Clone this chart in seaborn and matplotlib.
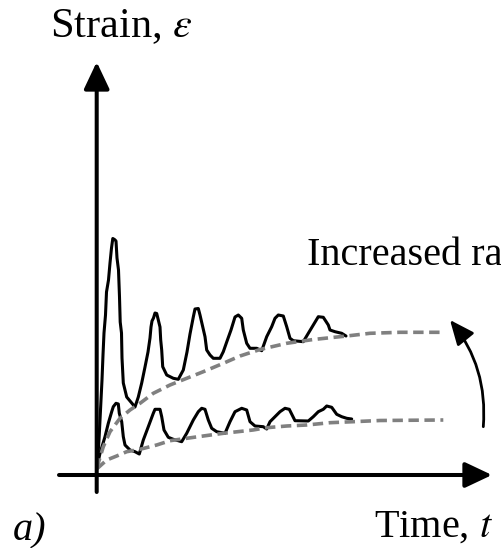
import matplotlib
matplotlib.use("Agg")
import matplotlib.pyplot as plt
from matplotlib.patches import FancyArrowPatch
import seaborn as sns
import pandas as pd

# --- strain response under cyclic loading (time t, strain eps) ---
upper_t = [0.05, 0.25, 0.40, 0.55, 0.65, 0.75, 0.90, 1.00, 1.20, 1.35, 1.50, 1.63,
           1.80, 1.95, 2.05, 2.20, 2.30, 2.37, 2.50, 2.55, 2.68, 3.02, 3.52, 3.85,
           4.18, 4.52, 4.85, 5.15, 5.35, 5.45, 5.55, 5.70, 5.85, 6.02, 6.18, 6.35,
           6.42, 6.52, 6.62, 7.02, 7.68, 8.18, 8.68, 9.05, 9.35, 9.68, 9.85, 10.18,
           10.35, 10.62, 10.85, 11.02, 11.35, 11.68, 12.35, 12.68, 13.02, 13.45, 13.85,
           14.18, 14.52, 14.68, 15.02, 15.35, 16.02, 16.52, 17.02, 17.52, 17.85, 18.18,
           18.68, 19.02, 19.35, 19.68, 20.68, 21.18, 21.68, 22.18, 22.68, 23.18, 23.35,
           23.85, 24.52, 24.95]
upper_eps = [0.70, 3.50, 6.50, 9.50, 12.00, 14.20, 16.00, 18.30, 19.50, 21.20, 22.70, 23.65,
             23.55, 23.40, 21.70, 20.50, 17.80, 15.30, 14.20, 11.70, 9.20, 7.80, 7.20, 6.80,
             7.80, 9.20, 10.80, 12.30, 13.70, 14.80, 15.40, 15.70, 16.20, 16.15, 15.50, 14.80,
             13.50, 12.50, 10.83, 10.00, 9.67, 9.57, 10.50, 12.30, 14.10, 15.80, 16.60, 16.65,
             16.00, 14.83, 13.83, 12.50, 12.00, 11.67, 11.67, 12.33, 13.30, 14.50, 15.80,
             16.00, 15.67, 14.50, 13.17, 12.67, 12.67, 12.43, 13.83, 14.83, 15.67, 16.00,
             15.90, 14.83, 13.67, 13.43, 13.33, 14.17, 15.00, 15.83, 15.77, 15.00, 14.50,
             14.33, 14.17, 13.90]

lower_t = [0.02, 0.35, 0.85, 1.18, 1.52, 1.68, 1.95, 2.18, 2.28, 2.52, 2.68, 2.85, 3.35,
           3.85, 4.28, 4.68, 5.18, 5.68, 5.85, 6.35, 6.52, 6.75, 7.18, 7.68, 8.52, 9.02,
           9.68, 10.18, 10.52, 10.85, 11.18, 11.52, 12.02, 12.85, 13.35, 13.85, 14.52,
           15.02, 15.35, 15.85, 16.68, 17.02, 17.35, 17.85, 18.35, 18.85, 19.28, 19.85,
           21.18, 21.68, 22.18, 22.68, 23.02, 23.52, 24.02, 24.52, 25.02, 25.52]
lower_eps = [0.67, 2.17, 3.83, 5.17, 6.33, 6.83, 7.17, 7.10, 6.17, 5.33, 3.83, 3.00, 2.50,
             2.33, 2.10, 3.50, 4.83, 6.17, 6.57, 6.57, 5.83, 4.50, 3.77, 3.57, 3.33, 4.17,
             5.50, 6.33, 6.67, 6.57, 5.50, 4.67, 4.33, 4.17, 5.33, 6.33, 6.67,
             6.50, 5.33, 4.90, 4.83, 4.60, 5.33, 5.83, 6.33, 6.67, 6.57, 5.43,
             5.40, 5.83, 6.33, 6.57, 6.90, 6.77, 6.07, 5.83, 5.67, 5.60]

# --- mean (creep) trends ---
upper_trend_t = [0.02, 0.68, 1.35, 2.35, 3.35, 4.35, 5.68, 7.35, 9.02, 10.68, 12.68,
                 14.35, 16.35, 19.02, 21.68, 25.02, 27.35, 30.35, 34.52]
upper_trend_eps = [0.67, 2.83, 4.33, 5.67, 6.50, 7.17, 8.17, 9.00, 9.67, 10.33, 11.17,
                   11.90, 12.55, 13.17, 13.55, 13.90, 14.17, 14.27, 14.27]
lower_trend_t = [0.02, 1.02, 2.02, 3.02, 4.35, 6.02, 7.35, 9.02, 10.68, 12.68, 15.65,
                 17.02, 19.02, 21.02, 23.35, 25.65, 28.35, 34.68]
lower_trend_eps = [0.60, 1.50, 1.90, 2.33, 2.57, 3.00, 3.43, 3.67, 3.90, 4.17, 4.50,
                   4.73, 4.90, 5.00, 5.23, 5.33, 5.45, 5.50]

x_label = "Time, $t$"
y_label = "Strain, $\\varepsilon$"
rate_label = "Increased rate"
panel_label = "a)"

sns.set_theme(style="white")
plt.rcParams["font.family"] = ["Liberation Serif", "DejaVu Serif"]
plt.rcParams["mathtext.fontset"] = "stix"
plt.rcParams["lines.scale_dashes"] = False

fig = plt.figure(figsize=(5.01, 5.48), dpi=100)
ax = fig.add_axes([0, 0, 1, 1])
ax.set_xlim(-9.65, 40.45)
ax.set_ylim(-7.3, 47.5)
ax.set_axis_off()

grey = "#808080"
dash = (0, (7.5, 4))

for t, e in [(upper_trend_t, upper_trend_eps), (lower_trend_t, lower_trend_eps)]:
    sns.lineplot(data=pd.DataFrame({"t": t, "eps": e}), x="t", y="eps", sort=False,
                 estimator=None, ax=ax, color=grey, lw=2.6, linestyle=dash, zorder=3)

for t, e in [(upper_t, upper_eps), (lower_t, lower_eps)]:
    sns.lineplot(data=pd.DataFrame({"t": t, "eps": e}), x="t", y="eps", sort=False,
                 estimator=None, ax=ax, color="black", lw=2.2, zorder=2)

# coordinate axes drawn as arrows crossing at the origin
axis_style = "-|>,head_length=16.5,head_width=7.8"
ax.add_patch(FancyArrowPatch((0.02, -1.7), (0.02, 41.3), arrowstyle=axis_style,
                             mutation_scale=1, lw=2.9, color="black",
                             shrinkA=0, shrinkB=0, zorder=4))
ax.add_patch(FancyArrowPatch((-3.75, 0.0), (39.55, 0.0), arrowstyle=axis_style,
                             mutation_scale=1, lw=2.9, color="black",
                             shrinkA=0, shrinkB=0, zorder=4))

# curved arrow pointing towards the higher loading rate
ax.add_patch(FancyArrowPatch((38.68, 4.83), (35.35, 15.5),
                             arrowstyle="-|>,head_length=15,head_width=6.5",
                             connectionstyle="arc3,rad=0.2", mutation_scale=1,
                             lw=2.0, color="black", shrinkA=0, shrinkB=0, zorder=4))

fs = 29
ax.text(-4.65, 43.8, y_label, fontsize=30.5, ha="left", va="baseline", color="black")
ax.text(39.65, -6.17, x_label, fontsize=fs, ha="right", va="baseline", color="black")
ax.text(-8.35, -6.5, panel_label, fontsize=fs, style="italic", ha="left",
        va="baseline", color="black")
ax.text(21.05, 21.0, rate_label, fontsize=fs, ha="left", va="baseline", color="black",
        clip_on=False)

fig.savefig("out.png", dpi=100)
